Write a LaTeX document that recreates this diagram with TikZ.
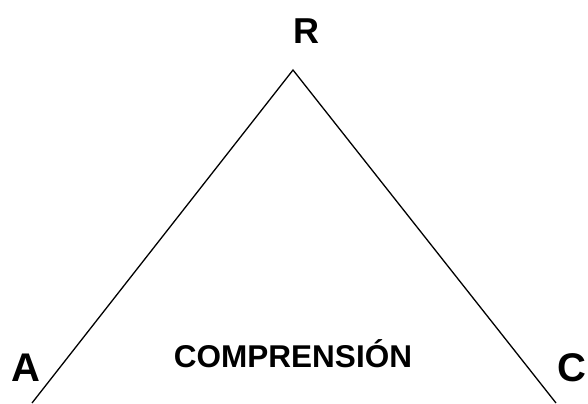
\documentclass[tikz,border=0pt]{standalone}
\usepackage{fontspec}
\setmainfont{Liberation Sans}
\usetikzlibrary{positioning}

\begin{document}
\begin{tikzpicture}[x=1bp, y=-1bp, every node/.style={font=\bfseries, inner sep=0pt}]
  \useasboundingbox (0,0) rectangle (588,403);
  \coordinate (top) at (293,70);
  \coordinate (left) at (32,403);
  \coordinate (right) at (556,403);
  \node (R) at (306,31) {\fontsize{36bp}{40bp}\selectfont R};
  \node (A) at (26,368) {\fontsize{40bp}{44bp}\selectfont A};
  \node (C) at (572,368) {\fontsize{40bp}{44bp}\selectfont C};
  \node (comp) at (293,354) {\fontsize{31.5bp}{36bp}\selectfont COMPRENSIÓN};
  \draw[line width=1.3bp] (left) -- (top) -- (right);
\end{tikzpicture}
\end{document}
